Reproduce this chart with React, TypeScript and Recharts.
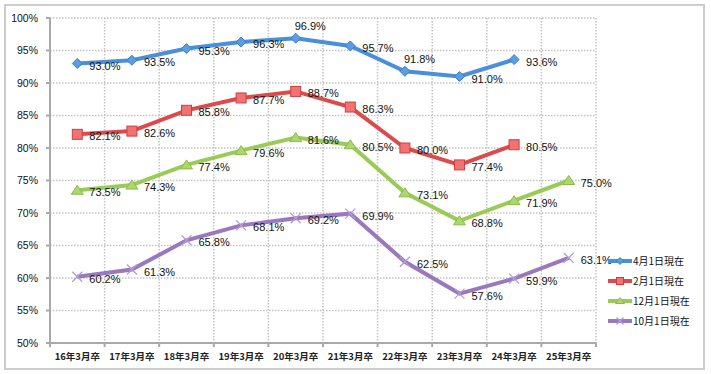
import { CartesianGrid, LabelList, Line, LineChart, XAxis, YAxis } from "recharts";

const categories = [
  "16年3月卒",
  "17年3月卒",
  "18年3月卒",
  "19年3月卒",
  "20年3月卒",
  "21年3月卒",
  "22年3月卒",
  "23年3月卒",
  "24年3月卒",
  "25年3月卒",
];

const april = [93.0, 93.5, 95.3, 96.3, 96.9, 95.7, 91.8, 91.0, 93.6];
const february = [82.1, 82.6, 85.8, 87.7, 88.7, 86.3, 80.0, 77.4, 80.5];
const december = [73.5, 74.3, 77.4, 79.6, 81.6, 80.5, 73.1, 68.8, 71.9, 75.0];
const october = [60.2, 61.3, 65.8, 68.1, 69.2, 69.9, 62.5, 57.6, 59.9, 63.1];

const yTicks = [50, 55, 60, 65, 70, 75, 80, 85, 90, 95, 100];

// label placement per point: "r" = right, "a" = above
const aprilLabelPos = ["r", "r", "r", "r", "a", "r", "a", "r", "r"];

const data = categories.map((cat, i) => ({
  cat,
  apr: april[i],
  feb: february[i],
  dec: december[i],
  oct: october[i],
}));

const W = 711;
const H = 374;
const M = { top: 18, right: 115, left: 0, bottom: 0 };
const Y_W = 50;
const X_H = 31;
const PLOT_W = W - M.left - M.right - Y_W;
const STEP = PLOT_W / categories.length;

const AXIS = "#a9a9a9";
const FONT = "'Liberation Sans', Arial, sans-serif";
const CJK = "'Noto Sans CJK JP', sans-serif";

const BLUE = "#4a8fd9";
const RED = "#dc4b4b";
const GREEN = "#9bcb57";
const PURPLE = "#9978be";

function Diamond({ cx, cy, r = 5 }: any) {
  return (
    <polygon
      points={`${cx},${cy - r} ${cx + r},${cy} ${cx},${cy + r} ${cx - r},${cy}`}
      fill="#5b9de3"
      stroke="#3f7fc4"
      strokeWidth={1}
    />
  );
}

function Square({ cx, cy, r = 5 }: any) {
  return (
    <rect x={cx - r} y={cy - r} width={r * 2} height={r * 2} fill="#f07272" stroke="#cf3f3f" strokeWidth={1} />
  );
}

function Triangle({ cx, cy, r = 5 }: any) {
  return (
    <polygon
      points={`${cx},${cy - r} ${cx + r + 1},${cy + r - 1} ${cx - r - 1},${cy + r - 1}`}
      fill="#acd66f"
      stroke="#8bbb48"
      strokeWidth={1}
    />
  );
}

function Cross({ cx, cy, r = 5 }: any) {
  return (
    <g stroke="#b49bd6" strokeWidth={1.3}>
      <line x1={cx - r} y1={cy - r} x2={cx + r} y2={cy + r} />
      <line x1={cx - r} y1={cy + r} x2={cx + r} y2={cy - r} />
    </g>
  );
}

const dotOf = (Shape: any) => (p: any) => {
  if (p.value == null || p.cy == null) return <g key={p.index} />;
  return <Shape key={p.index} cx={p.cx} cy={p.cy} />;
};

const labelOf = (pos?: string[]) => (p: any) => {
  const { x, y, value, index } = p;
  if (value == null) return null;
  const above = pos && pos[index] === "a";
  return (
    <text
      x={above ? x - 1 : x + 12}
      y={above ? y - 8 : y + 6}
      fontSize={11}
      fontFamily={FONT}
      fill="#111"
    >
      {Number(value).toFixed(1)}%
    </text>
  );
};

function CatTick({ x, y, payload, index }: any) {
  const left = x - STEP / 2;
  return (
    <g>
      <line x1={left} y1={y} x2={left} y2={y + 4} stroke={AXIS} strokeWidth={2} />
      {index === categories.length - 1 && (
        <line x1={x + STEP / 2} y1={y} x2={x + STEP / 2} y2={y + 4} stroke={AXIS} strokeWidth={2} />
      )}
      <text x={x} y={y + 17} textAnchor="middle" fontSize={9.5} fontWeight="bold" fontFamily={CJK} fill="#222">
        {payload.value}
      </text>
    </g>
  );
}

const legendItems = [
  { name: "4月1日現在", color: BLUE, Shape: Diamond },
  { name: "2月1日現在", color: RED, Shape: Square },
  { name: "12月1日現在", color: GREEN, Shape: Triangle },
  { name: "10月1日現在", color: PURPLE, Shape: Cross },
];

function LegendBox() {
  return (
    <svg width={100} height={90} style={{ position: "absolute", left: 604, top: 250 }}>
      {legendItems.map((it, i) => {
        const cy = 11 + i * 20;
        return (
          <g key={it.name}>
            <line x1={4} y1={cy} x2={28} y2={cy} stroke={it.color} strokeWidth={4} />
            <it.Shape cx={16} cy={cy} r={3.5} />
            <text x={29} y={cy + 4} fontSize={10} fontFamily={CJK} fill="#111">
              {it.name}
            </text>
          </g>
        );
      })}
    </svg>
  );
}

export default function App() {
  return (
    <div style={{ position: "fixed", left: 0, top: 0, width: W, height: H, background: "#fff" }}>
      <div
        style={{
          position: "absolute",
          left: 4,
          top: 4,
          width: 701,
          height: 366,
          border: "2px solid #cdcdcd",
          boxSizing: "border-box",
        }}
      />
      <div style={{ position: "absolute", left: 0, top: 0 }}>
        <LineChart width={W} height={H} data={data} margin={M}>
          <CartesianGrid
            stroke="#c4c4c4"
            strokeWidth={1.5}
            strokeDasharray="1.5 1.5"
            verticalCoordinatesGenerator={({ offset }: any) =>
              categories.map((_, i) => offset.left + (i + 1) * (offset.width / categories.length))
            }
          />
          <XAxis
            dataKey="cat"
            scale="band"
            height={X_H}
            tickLine={false}
            tickSize={0}
            tickMargin={0}
            interval={0}
            axisLine={{ stroke: AXIS, strokeWidth: 2 }}
            tick={<CatTick />}
          />
          <YAxis
            type="number"
            domain={[50, 100]}
            ticks={yTicks}
            width={Y_W}
            interval={0}
            tickSize={4}
            tickMargin={8}
            axisLine={{ stroke: AXIS, strokeWidth: 2 }}
            tickLine={{ stroke: AXIS, strokeWidth: 2 }}
            tick={{ fontSize: 10.5, fontFamily: FONT, fill: "#111" }}
            tickFormatter={(v) => `${v}%`}
          />
          <Line
            type="linear"
            dataKey="apr"
            stroke={BLUE}
            strokeWidth={4}
            dot={dotOf(Diamond)}
            activeDot={false}
            isAnimationActive={false}
          >
            <LabelList dataKey="apr" content={labelOf(aprilLabelPos)} />
          </Line>
          <Line
            type="linear"
            dataKey="feb"
            stroke={RED}
            strokeWidth={4}
            dot={dotOf(Square)}
            activeDot={false}
            isAnimationActive={false}
          >
            <LabelList dataKey="feb" content={labelOf()} />
          </Line>
          <Line
            type="linear"
            dataKey="dec"
            stroke={GREEN}
            strokeWidth={4}
            dot={dotOf(Triangle)}
            activeDot={false}
            isAnimationActive={false}
          >
            <LabelList dataKey="dec" content={labelOf()} />
          </Line>
          <Line
            type="linear"
            dataKey="oct"
            stroke={PURPLE}
            strokeWidth={4}
            dot={dotOf(Cross)}
            activeDot={false}
            isAnimationActive={false}
          >
            <LabelList dataKey="oct" content={labelOf()} />
          </Line>
        </LineChart>
      </div>
      <LegendBox />
    </div>
  );
}
